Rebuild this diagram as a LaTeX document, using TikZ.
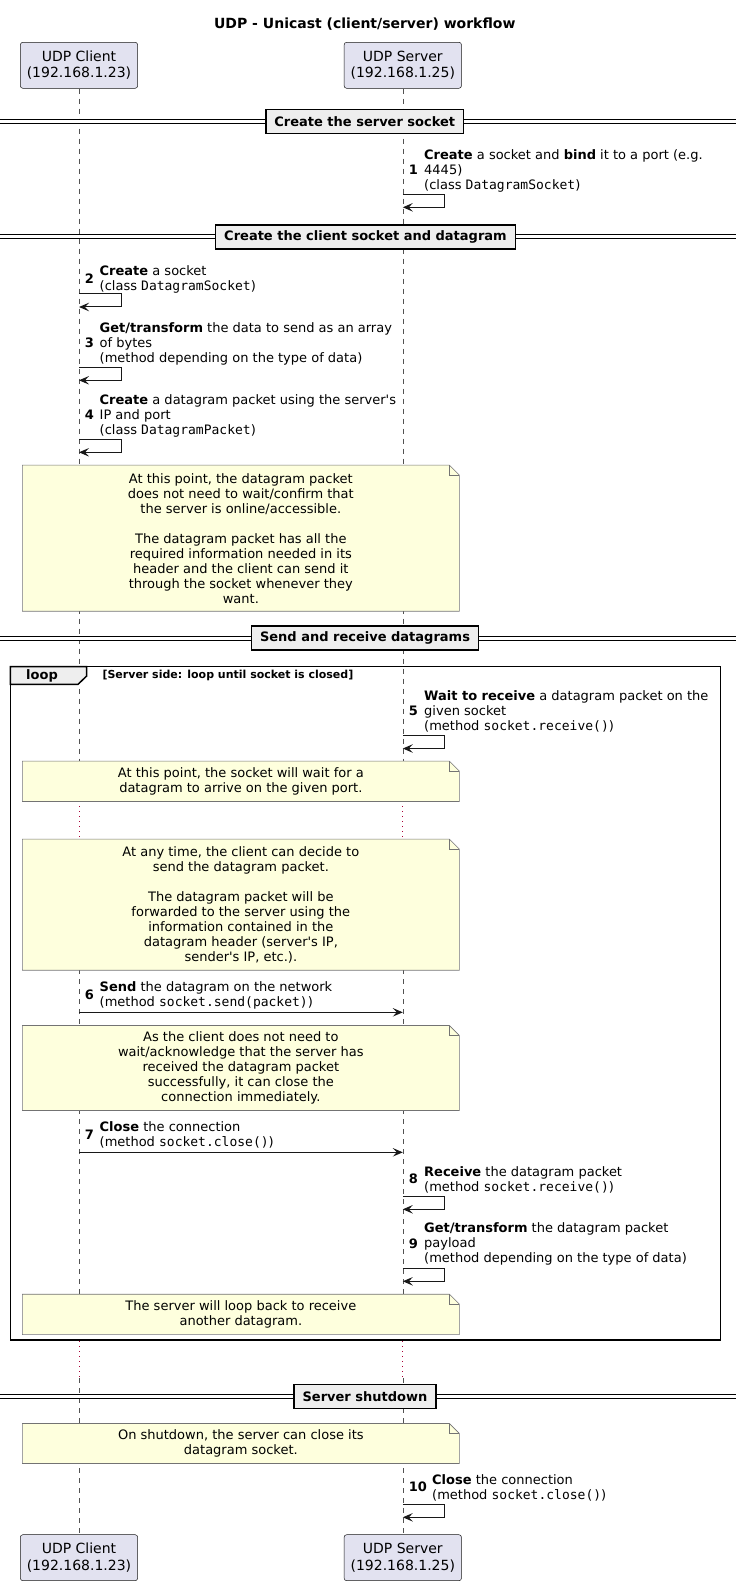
\documentclass[tikz,border=0pt]{standalone}
\usepackage{fontspec}
\setmainfont{DejaVu Sans}
\setmonofont{DejaVu Sans Mono}
\newfontfamily\dv{DejaVu Sans}
\usetikzlibrary{arrows.meta}
\definecolor{partfill}{HTML}{E2E2F0}
\definecolor{ink}{HTML}{181818}
\definecolor{notefill}{HTML}{FEFFDD}
\definecolor{sepfill}{HTML}{EEEEEE}
\definecolor{delayred}{HTML}{A80036}
\newcommand\foldnote[1]{%
  \fill[white] ([xshift=-10pt]#1.north east) -- (#1.north east) -- ([yshift=-10pt]#1.north east) -- cycle;
  \draw[noteline] (#1.north west) -- ([xshift=-10pt]#1.north east) -- ([yshift=-10pt]#1.north east) -- (#1.south east) -- (#1.south west) -- cycle;
  \draw[noteline] ([xshift=-10pt]#1.north east) -- ([xshift=-10pt,yshift=-10pt]#1.north east) -- ([yshift=-10pt]#1.north east);}
\tikzset{
  part/.style={draw=ink, fill=partfill, line width=0.5pt, rounded corners=2.5pt, minimum width=117.3pt, minimum height=46pt, align=center, inner sep=0pt, font=\dv\fontsize{14}{16.5}\selectfont},
  lifeline/.style={draw=ink!75, line width=0.5pt, dash pattern=on 5pt off 5pt},
  delay/.style={draw=delayred, line width=1pt, dash pattern=on 1pt off 4pt},
  dbl/.style={draw=black, line width=1pt, double=white, double distance=3pt},
  sepbox/.style={draw=black, fill=sepfill, line width=1.5pt, minimum height=24pt, inner xsep=8.5pt, inner ysep=0pt, font=\dv\bfseries\fontsize{13}{15}\selectfont},
  notebox/.style={fill=notefill, minimum width=436.7pt, inner sep=0pt},
  notetext/.style={align=center, inner sep=0pt, font=\dv\fontsize{13}{15}\selectfont},
  noteline/.style={draw=black!55, line width=0.6pt},
  msgtext/.style={anchor=north west, align=left, inner sep=0pt, font=\dv\fontsize{13}{15}\selectfont},
  msgnum/.style={anchor=east, inner sep=0pt, font=\dv\bfseries\fontsize{13}{15}\selectfont},
  msg/.style={draw=ink, line width=1pt, -{Stealth[length=10pt,width=8.5pt,inset=4pt]}},
  frame/.style={draw=black, line width=1.5pt},
}
\begin{document}
\begin{tikzpicture}[x=1pt,y=-1pt]
\useasboundingbox (0,0) rectangle (736,1586);
% title
\node[font=\dv\bfseries\fontsize{14}{16}\selectfont] (title) at (364.8,24) {UDP - Unicast (client/server) workflow};
% participants
\node[part] (cT) at (79,65.3) {UDP Client\\(192.168.1.23)};
\node[part] (sT) at (402.8,65.3) {UDP Server\\(192.168.1.25)};
\node[part] (cB) at (79,1557.7) {UDP Client\\(192.168.1.23)};
\node[part] (sB) at (402.8,1557.7) {UDP Server\\(192.168.1.25)};
% lifeline coordinates
\coordinate (cD1a) at (79,801.3); \coordinate (cD1b) at (79,839.3);
\coordinate (sD1a) at (402.8,801.3); \coordinate (sD1b) at (402.8,839.3);
\coordinate (cD2a) at (79,1341); \coordinate (cD2b) at (79,1378);
\coordinate (sD2a) at (402.8,1341); \coordinate (sD2b) at (402.8,1378);
\draw[lifeline] (cT.south) -- (cD1a);
\draw[delay] (cD1a) -- (cD1b);
\draw[lifeline] (cD1b) -- (cD2a);
\draw[delay] (cD2a) -- (cD2b);
\draw[lifeline] (cD2b) -- (cB.north);
\draw[lifeline] (sT.south) -- (sD1a);
\draw[delay] (sD1a) -- (sD1b);
\draw[lifeline] (sD1b) -- (sD2a);
\draw[delay] (sD2a) -- (sD2b);
\draw[lifeline] (sD2b) -- (sB.north);
% separators
\draw[dbl] (0,121.3) -- (736,121.3);
\node[sepbox] (sep1) at (364.8,121.3) {Create the server socket};
\draw[dbl] (0,237) -- (736,237);
\node[sepbox] (sep2) at (365.5,237) {Create the client socket and datagram};
\draw[dbl] (0,638) -- (736,638);
\node[sepbox] (sep3) at (365,638) {Send and receive datagrams};
\draw[dbl] (0,1396.5) -- (736,1396.5);
\node[sepbox] (sep4) at (365,1396.5) {Server shutdown};
% loop frame
\draw[frame] (10.3,666.5) rectangle (720.7,1340);
\filldraw[frame, fill=sepfill] (10.3,666.5) -- (86.7,666.5) -- (86.7,676) -- (78,684.3) -- (10.3,684.3) -- cycle;
\node[font=\dv\bfseries\fontsize{13}{15}\selectfont, inner sep=0pt] (looplbl) at (42,675.5) {loop};
\node[anchor=west, inner sep=0pt, font=\dv\bfseries\fontsize{11}{13}\selectfont] (guard) at (102.3,675.3) {[Server side: loop until socket is closed]};
% notes
\node[notebox, minimum height=145.7pt] (n1) at (240.85,538.2) {};
\foldnote{n1}
\node[notetext] (n1t) at (n1.center) {At this point, the datagram packet\\does not need to wait/confirm that\\the server is online/accessible.\\[15pt]The datagram packet has all the\\required information needed in its\\header and the client can send it\\through the socket whenever they\\want.};
\node[notebox, minimum height=40pt] (n2) at (240.85,781.3) {};
\foldnote{n2}
\node[notetext] (n2t) at (n2.center) {At this point, the socket will wait for a\\datagram to arrive on the given port.};
\node[notebox, minimum height=130.7pt] (n3) at (240.85,904.7) {};
\foldnote{n3}
\node[notetext] (n3t) at (n3.center) {At any time, the client can decide to\\send the datagram packet.\\[15pt]The datagram packet will be\\forwarded to the server using the\\information contained in the\\datagram header (server's IP,\\sender's IP, etc.).};
\node[notebox, minimum height=84.6pt] (n4) at (240.85,1068) {};
\foldnote{n4}
\node[notetext] (n4t) at (n4.center) {As the client does not need to\\wait/acknowledge that the server has\\received the datagram packet\\successfully, it can close the\\connection immediately.};
\node[notebox, minimum height=40pt] (n5) at (240.85,1314.4) {};
\foldnote{n5}
\node[notetext] (n5t) at (n5.center) {The server will loop back to receive\\another datagram.};
\node[notebox, minimum height=39.6pt] (n6) at (240.85,1443.5) {};
\foldnote{n6}
\node[notetext] (n6t) at (n6.center) {On shutdown, the server can close its\\datagram socket.};
% message 1
\node[msgtext] (t1) at (424,149.5) {\textbf{Create} a socket and \textbf{bind} it to a port (e.g.\\4445)\\(class \texttt{DatagramSocket})};
\node[msgnum] (m1) at (418,170) {1};
\coordinate (a1s) at (402.8,194.3); \coordinate (a1e) at (402.8,207.3);
\draw[msg] (a1s) -- ++(42,0) |- (a1e);
% message 2
\node[msgtext] (t2) at (99.5,265.2) {\textbf{Create} a socket\\(class \texttt{DatagramSocket})};
\node[msgnum] (m2) at (94,278.2) {2};
\coordinate (a2s) at (79,294); \coordinate (a2e) at (79,307);
\draw[msg] (a2s) -- ++(42,0) |- (a2e);
% message 3
\node[msgtext] (t3) at (99.5,322.2) {\textbf{Get/transform} the data to send as an array\\of bytes\\(method depending on the type of data)};
\node[msgnum] (m3) at (94,342.7) {3};
\coordinate (a3s) at (79,367.3); \coordinate (a3e) at (79,380.3);
\draw[msg] (a3s) -- ++(42,0) |- (a3e);
% message 4
\node[msgtext] (t4) at (99.5,394.2) {\textbf{Create} a datagram packet using the server's\\IP and port\\(class \texttt{DatagramPacket})};
\node[msgnum] (m4) at (94,414.7) {4};
\coordinate (a4s) at (79,439.3); \coordinate (a4e) at (79,452.3);
\draw[msg] (a4s) -- ++(42,0) |- (a4e);
% message 5
\node[msgtext] (t5) at (424,690.2) {\textbf{Wait to receive} a datagram packet on the\\given socket\\(method \texttt{socket.receive()})};
\node[msgnum] (m5) at (418,710.7) {5};
\coordinate (a5s) at (402.8,735.7); \coordinate (a5e) at (402.8,748.5);
\draw[msg] (a5s) -- ++(42,0) |- (a5e);
% message 6
\node[msgtext] (t6) at (99.5,981.8) {\textbf{Send} the datagram on the network\\(method \texttt{socket.send(packet)})};
\node[msgnum] (m6) at (94,995) {6};
\coordinate (a6s) at (79,1012.3); \coordinate (a6e) at (402.8,1012.3);
\draw[msg] (a6s) -- (a6e);
% message 7
\node[msgtext] (t7) at (99.5,1121.8) {\textbf{Close} the connection\\(method \texttt{socket.close()})};
\node[msgnum] (m7) at (94,1135) {7};
\coordinate (a7s) at (79,1152.3); \coordinate (a7e) at (402.8,1152.3);
\draw[msg] (a7s) -- (a7e);
% message 8
\node[msgtext] (t8) at (424,1166.2) {\textbf{Receive} the datagram packet\\(method \texttt{socket.receive()})};
\node[msgnum] (m8) at (418,1179.2) {8};
\coordinate (a8s) at (402.8,1196.7); \coordinate (a8e) at (402.8,1209.3);
\draw[msg] (a8s) -- ++(42,0) |- (a8e);
% message 9
\node[msgtext] (t9) at (424,1222.8) {\textbf{Get/transform} the datagram packet\\payload\\(method depending on the type of data)};
\node[msgnum] (m9) at (418,1243.3) {9};
\coordinate (a9s) at (402.8,1268.7); \coordinate (a9e) at (402.8,1281.3);
\draw[msg] (a9s) -- ++(42,0) |- (a9e);
% message 10
\node[msgtext] (t10) at (432,1474) {\textbf{Close} the connection\\(method \texttt{socket.close()})};
\node[msgnum] (m10) at (427.2,1487) {10};
\coordinate (a10s) at (402.8,1504.3); \coordinate (a10e) at (402.8,1517.3);
\draw[msg] (a10s) -- ++(42,0) |- (a10e);
\end{tikzpicture}
\end{document}
